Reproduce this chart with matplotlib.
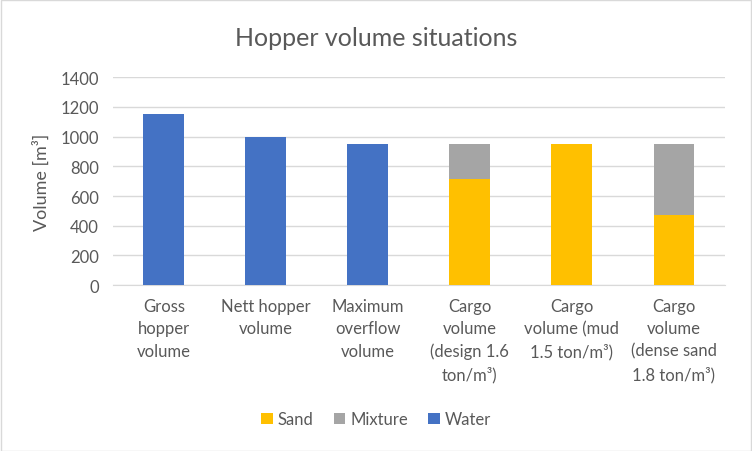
import matplotlib.pyplot as plt
import numpy as np

categories = ["Gross\nhopper\nvolume", "Nett hopper\nvolume", "Maximum\noverflow\nvolume",
              "Cargo\nvolume\n(design 1.6\nton/m\u00b3)", "Cargo\nvolume (mud\n1.5 ton/m\u00b3)",
              "Cargo\nvolume\n(dense sand\n1.8 ton/m\u00b3)"]
sand = [0, 0, 0, 715, 950, 475]
mixture = [0, 0, 0, 235, 0, 475]
water = [1150, 1000, 950, 0, 0, 0]

plt.rcParams['font.family'] = ['Lato', 'DejaVu Sans']
txt = '#595959'

fig = plt.figure(figsize=(7.52, 4.52), dpi=100)
ax = fig.add_axes([0.150, 0.367, 0.814, 0.46])

x = np.arange(len(categories))
w = 0.4
ax.bar(x, sand, w, color='#FFC000', label='Sand', zorder=3)
ax.bar(x, mixture, w, bottom=sand, color='#A5A5A5', label='Mixture', zorder=3)
bot = np.array(sand) + np.array(mixture)
ax.bar(x, water, w, bottom=bot, color='#4472C4', label='Water', zorder=3)

ax.set_xlim(-0.5, len(categories) - 0.5)
ax.set_ylim(0, 1400)
ax.set_yticks(range(0, 1401, 200))
ax.grid(axis='y', color='#D9D9D9', linewidth=1, zorder=0)
for s in ['top', 'right', 'left']:
    ax.spines[s].set_visible(False)
ax.spines['bottom'].set_color('#D9D9D9')
ax.tick_params(length=0, colors=txt, labelsize=12)
ax.tick_params(axis='y', pad=10)
ax.tick_params(axis='x', pad=9)
ax.set_xticks(x)
ax.set_xticklabels(categories, linespacing=1.5)
ax.set_ylabel('Volume [m\u00b3]', color=txt, fontsize=13, labelpad=8)

fig.suptitle('Hopper volume situations', x=0.5, y=0.94, color=txt, fontsize=18)
fig.legend(loc='center', bbox_to_anchor=(0.5, 0.07), ncol=3, frameon=False,
           fontsize=12, labelcolor=txt, handlelength=0.7, handleheight=0.7,
           handletextpad=0.3, columnspacing=1.2)

fig.patches.append(plt.Rectangle((0.001, 0.001), 0.998, 0.997, transform=fig.transFigure,
                                 fill=False, edgecolor='#D9D9D9', linewidth=1))
fig.savefig('out.png', dpi=100)
